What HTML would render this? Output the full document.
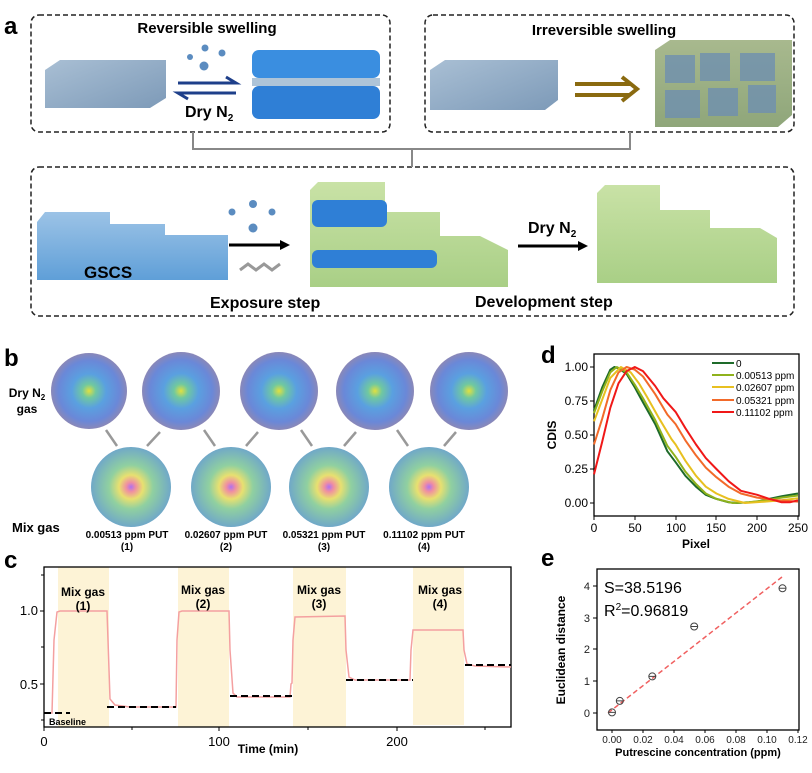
<!DOCTYPE html>
<html><head><meta charset="utf-8"><style>
html,body{margin:0;padding:0;background:#fff;}
svg{display:block;font-family:"Liberation Sans",Arial,sans-serif;}
</style></head><body>
<svg width="812" height="773" viewBox="0 0 812 773" xmlns="http://www.w3.org/2000/svg">
<defs>
<linearGradient id="gb" x1="0" y1="0" x2="0" y2="1"><stop offset="0" stop-color="#9cc3e6"/><stop offset="1" stop-color="#5f9fd8"/></linearGradient>
<linearGradient id="gs" x1="0" y1="0" x2="1" y2="1"><stop offset="0" stop-color="#a9bfd4"/><stop offset="1" stop-color="#7d9ab8"/></linearGradient>
<linearGradient id="gg" x1="0" y1="0" x2="0" y2="1"><stop offset="0" stop-color="#c9e2a6"/><stop offset="1" stop-color="#a9cf86"/></linearGradient>
<linearGradient id="gm" x1="0" y1="0" x2="0" y2="1"><stop offset="0" stop-color="#a8b98e"/><stop offset="1" stop-color="#8fa67a"/></linearGradient>
<radialGradient id="cd" cx="0.5" cy="0.5" r="0.5"><stop offset="0" stop-color="#e0e040"/><stop offset="0.18" stop-color="#70c8a0"/><stop offset="0.45" stop-color="#5aa0e0"/><stop offset="0.8" stop-color="#6a88d8"/><stop offset="1" stop-color="#8a88b8"/></radialGradient>
<radialGradient id="cm" cx="0.5" cy="0.5" r="0.5"><stop offset="0" stop-color="#b070f0"/><stop offset="0.12" stop-color="#f090a0"/><stop offset="0.3" stop-color="#e8e070"/><stop offset="0.55" stop-color="#90d0a0"/><stop offset="1" stop-color="#70a8c8"/></radialGradient>
</defs>

<!-- Panel a -->
<text x="4" y="34" font-size="24" font-weight="bold">a</text>
<rect x="31" y="15" width="359" height="117" rx="8" fill="none" stroke="#222" stroke-width="1.5" stroke-dasharray="5,3"/>
<rect x="425" y="15" width="369" height="117" rx="8" fill="none" stroke="#222" stroke-width="1.5" stroke-dasharray="5,3"/>
<rect x="31" y="167" width="763" height="149" rx="8" fill="none" stroke="#222" stroke-width="1.5" stroke-dasharray="5,3"/>
<path d="M193 132V149H630V132M412 149V167" fill="none" stroke="#888" stroke-width="2"/>
<text x="207" y="33" font-size="15" font-weight="bold" text-anchor="middle">Reversible swelling</text>
<text x="604" y="35" font-size="15" font-weight="bold" text-anchor="middle">Irreversible swelling</text>
<polygon points="45,70 60,60 166,60 166,98 150,108 45,108" fill="url(#gs)"/>
<circle cx="205" cy="48" r="3.5" fill="#5b8cc0"/><circle cx="222" cy="53" r="3.5" fill="#5b8cc0"/><circle cx="204" cy="66" r="4.5" fill="#5b8cc0"/><circle cx="190" cy="57" r="3" fill="#5b8cc0"/>
<path d="M178 83H236L226 77M236 93H178L188 99" fill="none" stroke="#1e3f8a" stroke-width="3"/>
<text x="185" y="117" font-size="16" font-weight="bold">Dry N<tspan font-size="10" dy="4">2</tspan></text>
<rect x="252" y="50" width="128" height="28" rx="7" fill="#3a8ee0"/>
<rect x="252" y="78" width="128" height="8" fill="#aec4d8"/>
<rect x="252" y="86" width="128" height="33" rx="7" fill="#2f7fd6"/>
<polygon points="430,70 445,60 558,60 558,100 545,110 430,110" fill="url(#gs)"/>
<path d="M575 84H630M575 95H630M622 77L637 89L622 101" fill="none" stroke="#8a6a10" stroke-width="4"/>
<polygon points="655,50 670,40 792,40 792,115 778,127 655,127" fill="url(#gm)"/>
<g fill="#6f90b0" opacity="0.8"><rect x="665" y="55" width="30" height="28"/><rect x="700" y="53" width="30" height="28"/><rect x="740" y="53" width="35" height="28"/><rect x="665" y="90" width="35" height="28"/><rect x="708" y="88" width="30" height="28"/><rect x="748" y="85" width="28" height="28"/></g>
<polygon points="37,222 45,212 110,212 110,224 165,224 165,235 228,235 228,280 37,280" fill="url(#gb)"/>
<text x="84" y="278" font-size="17" font-weight="bold">GSCS</text>
<circle cx="232" cy="212" r="3.5" fill="#5b8cc0"/><circle cx="253" cy="204" r="4" fill="#5b8cc0"/><circle cx="272" cy="212" r="3.5" fill="#5b8cc0"/><circle cx="253" cy="228" r="4.5" fill="#5b8cc0"/>
<path d="M229 245H285" stroke="#000" stroke-width="3"/><polygon points="290,245 280,240 280,250"/>
<path d="M240 270L248 264L256 270L264 264L272 270L280 264" fill="none" stroke="#999" stroke-width="3"/>
<polygon points="310,190 318,182 385,182 385,212 440,212 440,236 480,236 508,250 508,287 310,287" fill="url(#gg)"/>
<rect x="312" y="200" width="75" height="27" rx="6" fill="#2f7fd6"/>
<rect x="312" y="250" width="125" height="18" rx="6" fill="#2f7fd6"/>
<path d="M518 246H582" stroke="#000" stroke-width="3"/><polygon points="588,246 578,241 578,251"/>
<text x="528" y="233" font-size="16" font-weight="bold">Dry N<tspan font-size="10" dy="4">2</tspan></text>
<polygon points="597,193 605,185 660,185 660,210 710,210 710,228 760,228 777,238 777,283 597,283" fill="url(#gg)"/>
<text x="210" y="308" font-size="16" font-weight="bold">Exposure step</text>
<text x="475" y="307" font-size="16" font-weight="bold">Development  step</text>

<!-- Panel b -->
<text x="4" y="366" font-size="24" font-weight="bold">b</text>
<text x="27" y="397" font-size="12" font-weight="bold" text-anchor="middle">Dry N<tspan font-size="8" dy="3">2</tspan></text>
<text x="27" y="413" font-size="12" font-weight="bold" text-anchor="middle">gas</text>
<text x="12" y="532" font-size="13" font-weight="bold">Mix gas</text>
<g fill="url(#cd)"><circle cx="89" cy="391" r="38"/><circle cx="181" cy="391" r="39"/><circle cx="279" cy="391" r="39"/><circle cx="375" cy="391" r="39"/><circle cx="469" cy="391" r="39"/></g>
<g fill="url(#cm)"><circle cx="131" cy="487" r="40"/><circle cx="231" cy="487" r="40"/><circle cx="329" cy="487" r="40"/><circle cx="429" cy="487" r="40"/></g>
<g stroke="#999" stroke-width="2.5" fill="none">
<path d="M106 430L117 446M147 446L160 432M204 430L215 446M246 446L258 432M301 430L312 446M344 446L356 432M397 430L408 446M444 446L456 432"/></g>
<g font-size="10" font-weight="bold" text-anchor="middle">
<text x="127" y="538">0.00513 ppm PUT</text><text x="127" y="550">(1)</text>
<text x="226" y="538">0.02607 ppm PUT</text><text x="226" y="550">(2)</text>
<text x="324" y="538">0.05321 ppm PUT</text><text x="324" y="550">(3)</text>
<text x="424" y="538">0.11102 ppm PUT</text><text x="424" y="550">(4)</text></g>

<!-- Panel c -->
<text x="4" y="568" font-size="24" font-weight="bold">c</text>
<g fill="#fdf3d6">
<rect x="58" y="567" width="51" height="160"/><rect x="178" y="567" width="51" height="160"/><rect x="293" y="567" width="53" height="160"/><rect x="413" y="567" width="51" height="158"/></g>
<rect x="44" y="567" width="467" height="160" fill="none" stroke="#000" stroke-width="1.3"/>
<polyline fill="none" stroke="#f4a0a0" stroke-width="1.5" points="44,713 52,713 54,640 57,612 60,611 107,611 108,640 110,699 115,705 130,707 176,707 177,640 179,612 182,611 229,611 230,650 233,693 237,697 290,697 291,684 292,683 293,640 295,617 345,616 346,650 349,677 355,680 410,680 411,650 413,630 463,630 464,650 467,664 475,666 511,667"/>
<g stroke="#000" stroke-width="2" stroke-dasharray="7,4" fill="none">
<path d="M44 713H70M107 707H176M230 696H295M346 680H413M465 665H511"/></g>
<g font-size="12" font-weight="bold" text-anchor="middle">
<text x="83" y="596">Mix gas</text><text x="83" y="610">(1)</text>
<text x="203" y="594">Mix gas</text><text x="203" y="608">(2)</text>
<text x="319" y="594">Mix gas</text><text x="319" y="608">(3)</text>
<text x="440" y="594">Mix gas</text><text x="440" y="608">(4)</text></g>
<text x="49" y="725" font-size="9" font-weight="bold">Baseline</text>
<g stroke="#000" stroke-width="1"><path d="M44 727v4M132 727v3M219 727v4M308 727v3M397 727v4M485 727v3M44 611h-4M44 684h-4M44 575h-3M44 647h-3M44 720h-3"/></g>
<g font-size="13" text-anchor="end"><text x="38" y="615">1.0</text><text x="38" y="689">0.5</text></g>
<g font-size="13" text-anchor="middle"><text x="44" y="746">0</text><text x="219" y="746">100</text><text x="397" y="746">200</text></g>
<text x="268" y="753" font-size="12" font-weight="bold" text-anchor="middle">Time (min)</text>

<!-- Panel d -->
<text x="541" y="363" font-size="24" font-weight="bold">d</text>
<rect x="594" y="354" width="205" height="162" fill="none" stroke="#000" stroke-width="1.3"/>
<g stroke="#000" stroke-width="1"><path d="M594 367h-4M594 401h-4M594 435h-4M594 469h-4M594 503h-4M594 516v4M635 516v4M676 516v4M716 516v4M757 516v4M798 516v4"/></g>
<g font-size="12" text-anchor="end"><text x="588" y="371">1.00</text><text x="588" y="405">0.75</text><text x="588" y="439">0.50</text><text x="588" y="473">0.25</text><text x="588" y="507">0.00</text></g>
<g font-size="12" text-anchor="middle"><text x="594" y="532">0</text><text x="635" y="532">50</text><text x="676" y="532">100</text><text x="716" y="532">150</text><text x="757" y="532">200</text><text x="798" y="532">250</text></g>
<text x="696" y="548" font-size="12" font-weight="bold" text-anchor="middle">Pixel</text>
<text transform="translate(556,435) rotate(-90)" font-size="12" font-weight="bold" text-anchor="middle">CDIS</text>
<g fill="none" stroke-width="2" stroke-linejoin="round">
<polyline stroke="#1e6b2a" points="594,410.5 602.2,387.4 610.3,369.7 614.4,367 618.5,368.4 626.6,373.8 634.8,387.4 643,402.4 655.2,424.1 667.4,451.3 675.6,462.2 685.4,475.8 696,486.7 705.8,494.8 716.4,498.9 728.6,502.3 736.8,503 749,502.3 757.2,501.6 769.4,498.9 781.7,496.2 798,493.5"/>
<polyline stroke="#8fb21c" points="594,413.2 602.2,391.5 610.3,372.4 616.8,367 626.6,372.4 634.8,384.7 643,398.3 655.2,420 667.4,445.9 675.6,456.8 685.4,471.7 696,484 705.8,493.5 716.4,498.9 732.7,503 749,502.3 765.4,500.3 781.7,497.6 798,495.5"/>
<polyline stroke="#e8c020" points="594,421.4 602.2,399.6 610.3,377.9 620.9,367 630.7,372.4 638.9,383.3 647,396.9 659.3,418.7 671.5,439.1 675.6,444.5 685.4,460.8 696,475.8 705.8,486.7 716.4,493.5 728.6,498.9 745,503 765.4,501.6 781.7,500.3 798,498.2"/>
<polyline stroke="#f26a2a" points="594,444.5 602.2,418.7 610.3,390.1 618.5,372.4 626.6,367 634.8,369.7 643,376.5 655.2,394.2 667.4,414.6 675.6,424.1 685.4,440.4 696,455.4 705.8,467.6 716.4,477.2 728.6,486.7 740.9,493.5 757.2,497.6 777.6,500.3 798,501.6"/>
<polyline stroke="#f01818" points="594,474.4 602.2,441.8 610.3,407.8 618.5,383.3 626.6,371.1 634.8,367 643,371.1 655.2,386 663.4,398.3 675.6,411.9 685.4,428.2 696,444.5 705.8,458.1 716.4,469 728.6,481.2 740.9,490.8 757.2,494.8 769.4,498.9 781.7,502.3 789.8,502.3 798,500.3"/>
<path stroke="#1e6b2a" d="M712 363H734"/><path stroke="#8fb21c" d="M712 375H734"/><path stroke="#e8c020" d="M712 387H734"/><path stroke="#f26a2a" d="M712 400H734"/><path stroke="#f01818" d="M712 412H734"/>
</g>
<g font-size="10"><text x="736" y="367">0</text><text x="736" y="379">0.00513 ppm</text><text x="736" y="391">0.02607 ppm</text><text x="736" y="404">0.05321 ppm</text><text x="736" y="416">0.11102 ppm</text></g>

<!-- Panel e -->
<text x="541" y="566" font-size="24" font-weight="bold">e</text>
<rect x="597" y="569" width="202" height="161" fill="none" stroke="#000" stroke-width="1.3"/>
<g stroke="#000" stroke-width="1"><path d="M597 713h-4M597 681h-4M597 649h-4M597 618h-4M597 586h-4M612 730v3M643 730v3M674 730v3M705 730v3M736 730v3M767 730v3M798 730v3"/></g>
<g font-size="11" text-anchor="end" fill="#222"><text x="590" y="717">0</text><text x="590" y="685">1</text><text x="590" y="653">2</text><text x="590" y="622">3</text><text x="590" y="590">4</text></g>
<g font-size="10" text-anchor="middle" fill="#222"><text x="612" y="743">0.00</text><text x="643" y="743">0.02</text><text x="674" y="743">0.04</text><text x="705" y="743">0.06</text><text x="736" y="743">0.08</text><text x="767" y="743">0.10</text><text x="798" y="743">0.12</text></g>
<text x="698" y="756" font-size="11" font-weight="bold" text-anchor="middle">Putrescine concentration (ppm)</text>
<text transform="translate(565,650) rotate(-90)" font-size="12" font-weight="bold" text-anchor="middle">Euclidean distance</text>
<path d="M608 713L782 577" stroke="#f06060" stroke-width="1.5" stroke-dasharray="5,3"/>
<g fill="none" stroke="#444" stroke-width="1"><circle cx="612" cy="712.4" r="3.5"/><circle cx="619.8" cy="700.9" r="3.5"/><circle cx="652.3" cy="676.4" r="3.5"/><circle cx="694.2" cy="626.5" r="3.5"/><circle cx="782.5" cy="588.3" r="3.5"/>
<path d="M608.5 712.4h7M616.3 700.9h7M648.8 676.4h7M690.7 626.5h7M779 588.3h7"/></g>
<text x="604" y="593" font-size="16">S=38.5196</text>
<text x="604" y="616" font-size="16">R<tspan font-size="10" dy="-6">2</tspan><tspan dy="6">=0.96819</tspan></text>
</svg>
</body></html>
